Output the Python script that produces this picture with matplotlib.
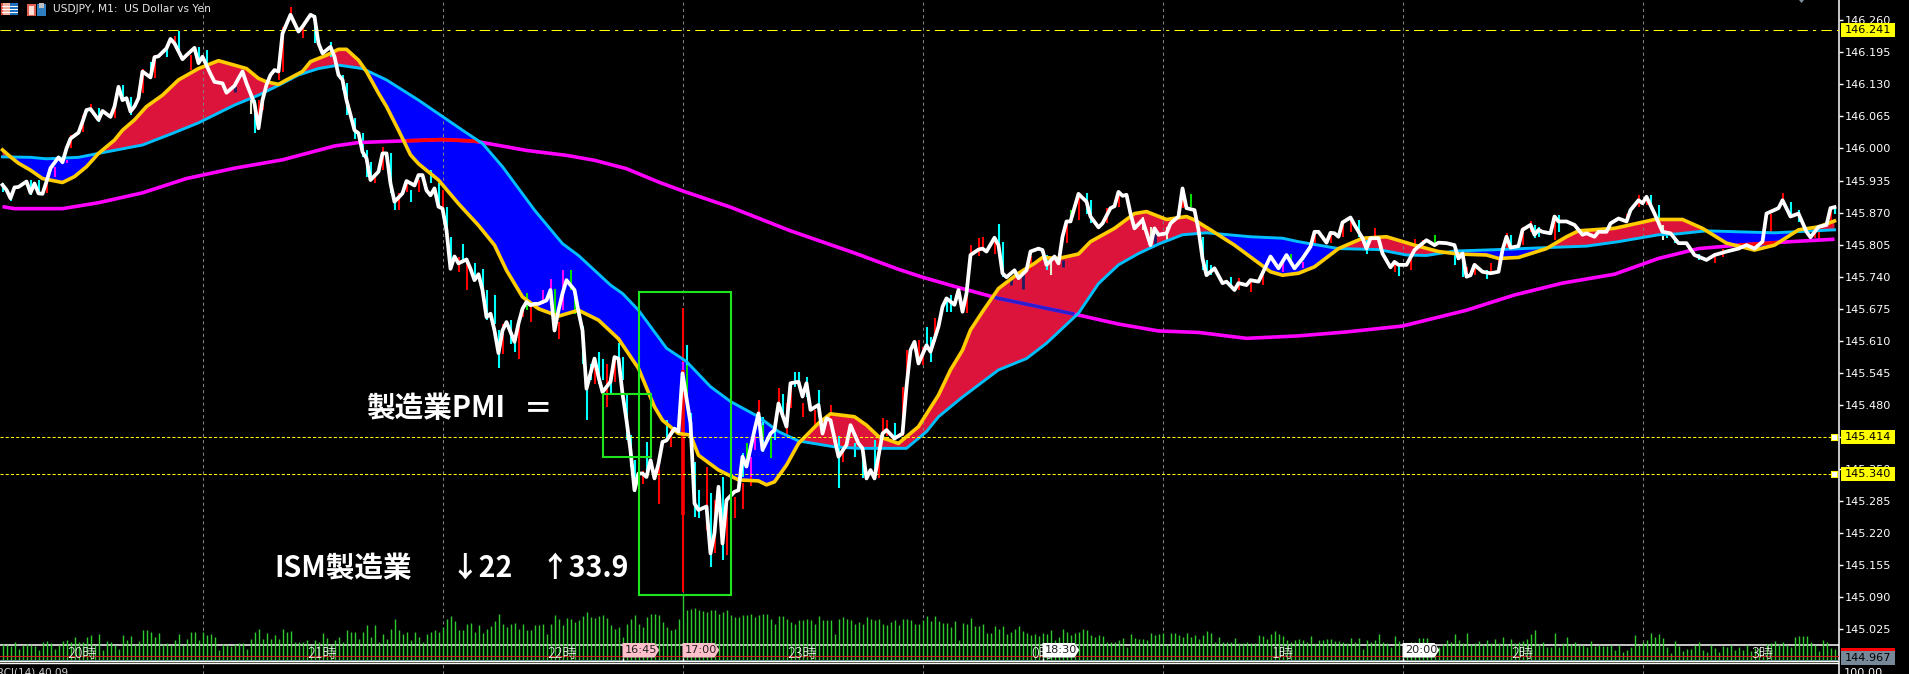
import numpy as np
import matplotlib
matplotlib.use("Agg")
import matplotlib.pyplot as plt
from matplotlib.patches import Rectangle, Polygon

CJK = ['Noto Sans CJK JP', 'DejaVu Sans']

# ---------- close line (bar index, price) ----------
close_idx = [0,1,2,3,4,6,7,8,9,10,11,12,14,15,16,17,19,20,21,22,24,25,27,28,29,30,31,32,33,34,35,37,38,39,41,42,43,45,46,48,49,50,52,53,55,56,58,59,60,61,63,64,65,66,67,68,69,70,72,74,75,77,78,79,80,82,83,84,85,86,87,88,89,90,91,92,94,95,96,97,98,100,101,103,104,105,106,107,108,109,110,111,112,113,114,116,117,118,119,120,121,122,123,124,125,126,128,129,130,131,132,133,134,136,137,138,139,140,141,143,144,145,146,147,148,149,150,152,153,154,155,156,157,158,159,160,161,162,163,164,165,166,168,169,170,172,173,174,176,177,178,179,180,181,183,184,185,186,188,189,190,192,193,194,196,197,199,200,201,202,204,205,206,207,209,211,212,214,215,216,217,218,220,221,223,225,226,227,228,229,231,232,234,235,236,238,239,240,241,242,244,245,246,248,249,250,251,253,254,256,257,259,260,261,262,263,264,265,266,267,269,271,272,274,275,277,278,279,280,281,282,283,285,287,288,289,291,292,294,295,296,298,299,300,301,303,305,306,308,309,311,312,314,317,319,321,323,325,327,328,329,331,332,333,334,335,337,338,340,341,342,344,345,347,348,349,351,353,354,356,358,359,361,363,364,365,366,367,368,370,372,374,375,376,377,379,380,382,383,384,385,387,388,389,391,393,395,396,398,399,401,402,404,406,407,409,410,411,413,415,417,419,421,423,426,428,431,434,436,438,440,441,444,445,447,449,451,452,454,456,457,458]
close_val = [145.926,145.916,145.899,145.921,145.922,145.933,145.910,145.929,145.909,145.908,145.933,145.960,145.982,145.972,146.000,146.020,146.032,146.054,146.078,146.080,146.058,146.076,146.064,146.085,146.125,146.098,146.102,146.075,146.085,146.102,146.156,146.144,146.185,146.187,146.203,146.222,146.213,146.181,146.189,146.204,146.173,146.186,146.151,146.135,146.132,146.113,146.127,146.142,146.156,146.132,146.091,146.041,146.098,146.129,146.149,146.159,146.156,146.233,146.271,146.237,146.247,146.271,146.267,146.213,146.193,146.206,146.186,146.149,146.139,146.098,146.068,146.037,146.031,145.993,145.980,145.936,145.953,145.990,145.990,145.929,145.892,145.909,145.934,145.925,145.946,145.946,145.915,145.905,145.919,145.882,145.878,145.834,145.756,145.781,145.767,145.775,145.756,145.733,145.745,145.713,145.658,145.665,145.631,145.585,145.631,145.648,145.608,145.645,145.675,145.689,145.682,145.685,145.685,145.692,145.713,145.631,145.672,145.706,145.733,145.713,145.669,145.631,145.513,145.544,145.574,145.537,145.506,145.527,145.577,145.574,145.503,145.449,145.388,145.307,145.341,145.341,145.334,145.368,145.331,145.361,145.405,145.408,145.432,145.426,145.544,145.443,145.280,145.267,145.274,145.179,145.220,145.314,145.199,145.287,145.304,145.307,145.375,145.355,145.429,145.463,145.389,145.422,145.429,145.483,145.436,145.524,145.527,145.497,145.524,145.470,145.480,145.422,145.453,145.449,145.375,145.399,145.439,145.402,145.392,145.331,145.348,145.331,145.422,145.429,145.412,145.422,145.517,145.591,145.608,145.564,145.601,145.588,145.639,145.679,145.696,145.683,145.713,145.669,145.706,145.784,145.795,145.797,145.791,145.819,145.804,145.747,145.739,145.753,145.737,145.753,145.791,145.797,145.794,145.764,145.772,145.781,145.767,145.821,145.852,145.852,145.908,145.892,145.862,145.840,145.848,145.879,145.883,145.912,145.904,145.906,145.868,145.838,145.855,145.804,145.838,145.825,145.828,145.848,145.862,145.919,145.879,145.875,145.835,145.777,145.743,145.757,145.727,145.730,145.713,145.727,145.723,145.733,145.730,145.781,145.757,145.784,145.757,145.777,145.801,145.831,145.831,145.809,145.829,145.828,145.821,145.850,145.860,145.845,145.818,145.797,145.818,145.818,145.787,145.759,145.770,145.764,145.764,145.794,145.801,145.814,145.804,145.809,145.808,145.804,145.777,145.787,145.740,145.743,145.764,145.750,145.747,145.750,145.794,145.821,145.799,145.802,145.835,145.845,145.825,145.835,145.831,145.828,145.862,145.852,145.852,145.845,145.825,145.828,145.821,145.831,145.831,145.848,145.858,145.852,145.875,145.895,145.889,145.902,145.868,145.831,145.828,145.808,145.808,145.784,145.774,145.784,145.791,145.797,145.804,145.797,145.811,145.868,145.879,145.895,145.862,145.868,145.831,145.820,145.841,145.845,145.879,145.881]

# ---------- moving averages ----------
fast_idx = [0,2,4,7,10,15,18,21,24,28,30,33,36,40,44,49,54,61,64,66,69,71,75,77,81,84,86,89,91,94,96,99,102,104,109,114,119,123,126,130,134,139,144,149,154,159,163,165,169,172,174,179,184,189,191,193,196,199,204,207,213,216,219,224,229,234,237,240,242,245,249,254,258,260,264,269,272,278,283,286,291,296,298,302,308,313,317,320,324,328,334,340,346,353,359,364,371,374,379,386,391,394,403,413,420,425,431,438,443,449,454,458]
fast_val = [145.997,145.983,145.970,145.956,145.939,145.931,145.943,145.963,145.990,146.017,146.037,146.058,146.085,146.108,146.139,146.162,146.178,146.162,146.142,146.135,146.130,146.139,146.156,146.176,146.189,146.201,146.201,146.179,146.156,146.112,146.085,146.037,145.987,145.969,145.936,145.888,145.844,145.804,145.753,145.699,145.675,145.660,145.672,145.652,145.614,145.554,145.476,145.449,145.422,145.419,145.378,145.348,145.328,145.326,145.318,145.324,145.358,145.402,145.443,145.462,145.456,145.439,145.416,145.402,145.436,145.500,145.551,145.591,145.632,145.669,145.716,145.747,145.767,145.779,145.777,145.786,145.811,145.838,145.868,145.872,145.856,145.862,145.855,145.835,145.804,145.774,145.750,145.743,145.747,145.760,145.797,145.818,145.821,145.804,145.791,145.786,145.784,145.777,145.779,145.797,145.821,145.833,145.838,145.856,145.856,145.838,145.808,145.794,145.804,145.835,145.841,145.853]

slow_idx = [0,7,11,19,24,35,42,49,58,64,70,74,79,84,90,96,104,115,120,125,133,140,144,152,155,159,166,171,177,182,189,194,199,208,214,226,231,234,240,249,256,261,269,274,279,284,289,295,301,312,320,324,334,344,351,356,363,374,386,396,404,414,419,426,434,443,458]
slow_val = [145.983,145.982,145.979,145.982,145.990,146.007,146.029,146.052,146.088,146.108,146.132,146.149,146.162,146.169,146.162,146.139,146.098,146.037,146.010,145.963,145.875,145.807,145.783,145.723,145.706,145.672,145.595,145.568,145.517,145.487,145.456,145.426,145.407,145.395,145.392,145.392,145.426,145.456,145.496,145.551,145.574,145.605,145.666,145.726,145.764,145.787,145.806,145.825,145.829,145.821,145.818,145.811,145.797,145.795,145.784,145.783,145.792,145.795,145.799,145.802,145.811,145.825,145.827,145.833,145.831,145.829,145.835]

long_idx = [0,3,15,24,35,46,58,70,83,89,99,110,118,131,141,148,156,164,170,182,197,213,224,230,239,249,258,268,279,289,299,311,324,336,350,366,378,390,403,414,419,424,434,447,458]
long_val = [145.882,145.878,145.878,145.890,145.910,145.939,145.960,145.977,146.005,146.012,146.015,146.018,146.015,145.996,145.986,145.976,145.959,145.932,145.914,145.881,145.833,145.788,145.755,145.739,145.718,145.696,145.681,145.664,145.644,145.630,145.627,145.615,145.620,145.628,145.640,145.672,145.703,145.727,145.745,145.777,145.787,145.797,145.804,145.811,145.816]

# ---------- candle wicks and bodies seen beside the close line ----------
red_idx = [11,17,20,22,28,35,38,43,47,64,65,69,70,72,75,93,95,99,101,104,110,114,116,125,129,130,132,139,148,151,153,159,160,161,164,167,170,176,178,181,183,185,187,189,194,196,197,200,203,207,210,219,220,221,225,226,229,233,230,241,242,244,245,248,257,266,269,276,279,295,309,312,315,328,332,335,337,343,348,352,353,355,366,368,372,374,376,380,382,388,406,409,411,428,430,442,445,453,454,457]
red_hi = [145.933,146.027,146.068,146.091,146.085,146.162,146.189,146.227,146.189,146.098,146.105,146.176,146.247,146.287,146.247,145.943,146.003,145.909,145.929,145.936,145.915,145.780,145.773,145.645,145.645,145.682,145.682,145.648,145.574,145.564,145.574,145.341,145.347,145.361,145.361,145.429,145.676,145.355,145.287,145.287,145.294,145.321,145.334,145.491,145.514,145.483,145.517,145.483,145.470,145.480,145.402,145.409,145.453,145.449,145.517,145.591,145.612,145.656,145.598,145.710,145.804,145.818,145.821,145.818,145.781,145.852,145.906,145.879,145.906,145.916,145.737,145.730,145.754,145.831,145.831,145.850,145.860,145.838,145.767,145.787,145.816,145.814,145.760,145.767,145.767,145.774,145.828,145.841,145.852,145.865,145.868,145.906,145.902,145.784,145.797,145.868,145.909,145.831,145.831,145.875]
red_lo = [145.909,146.000,146.034,146.078,146.061,146.112,146.142,146.210,146.159,146.037,146.078,146.139,146.156,146.267,146.223,145.929,145.956,145.875,145.912,145.912,145.875,145.750,145.713,145.584,145.574,145.658,145.648,145.614,145.523,145.476,145.527,145.311,145.320,145.334,145.280,145.395,145.101,145.226,145.179,145.176,145.250,145.270,145.316,145.463,145.483,145.422,145.473,145.456,145.432,145.449,145.365,145.331,145.422,145.416,145.416,145.537,145.561,145.608,145.561,145.666,145.777,145.781,145.794,145.787,145.753,145.808,145.855,145.848,145.882,145.879,145.713,145.709,145.723,145.808,145.808,145.821,145.831,145.818,145.750,145.754,145.794,145.797,145.740,145.743,145.747,145.747,145.797,145.804,145.831,145.814,145.848,145.882,145.885,145.767,145.780,145.828,145.889,145.818,145.814,145.841]

spike_body_idx = [170]
spike_body_hi = [145.551]
spike_body_lo = [145.257]

cyan_idx = [0,2,7,9,24,30,32,37,41,44,49,51,63,78,82,85,86,88,90,91,92,97,98,102,107,109,111,112,115,118,120,121,123,124,127,128,145,146,147,149,150,152,154,155,156,157,158,161,166,171,172,173,174,177,180,185,190,193,195,198,199,201,204,209,213,215,218,223,231,232,236,237,249,250,261,271,272,300,301,302,307,339,341,349,363,365,371,377,383,384,389,412,414,416,418,424,447,449,458]
cyan_hi = [145.929,145.909,145.936,145.936,146.083,146.129,146.105,146.176,146.210,146.239,146.206,146.200,146.098,146.271,146.216,146.149,146.132,146.061,146.031,145.997,145.973,145.990,145.892,145.915,145.956,145.929,145.882,145.821,145.807,145.767,145.756,145.713,145.702,145.631,145.652,145.608,145.641,145.513,145.564,145.587,145.574,145.524,145.605,145.578,145.504,145.419,145.368,145.405,145.449,145.602,145.463,145.365,145.308,145.301,145.334,145.382,145.456,145.436,145.503,145.547,145.547,145.537,145.510,145.416,145.402,145.392,145.409,145.443,145.639,145.618,145.693,145.703,145.847,145.811,145.784,145.910,145.895,145.821,145.774,145.764,145.740,145.855,145.814,145.767,145.791,145.784,145.754,145.825,145.845,145.841,145.865,145.906,145.885,145.828,145.821,145.787,145.892,145.875,145.882]
cyan_lo = [145.912,145.894,145.905,145.909,146.054,146.098,146.068,146.142,146.186,146.193,146.173,146.173,146.031,146.213,146.186,146.118,146.068,146.020,145.983,145.943,145.936,145.909,145.875,145.892,145.929,145.885,145.831,145.756,145.770,145.733,145.713,145.652,145.645,145.554,145.604,145.587,145.564,145.449,145.530,145.523,145.530,145.500,145.578,145.530,145.409,145.355,145.304,145.341,145.408,145.558,145.416,145.253,145.250,145.152,145.166,145.334,145.385,145.409,145.456,145.517,145.517,145.497,145.456,145.311,145.375,145.331,145.331,145.416,145.591,145.568,145.669,145.669,145.804,145.740,145.754,145.868,145.848,145.754,145.750,145.743,145.720,145.821,145.787,145.741,145.764,145.740,145.735,145.801,145.818,145.821,145.831,145.882,145.841,145.818,145.808,145.774,145.862,145.851,145.868]

violet_idx = [13,16,135,137,140,170,187,188,320,325]
violet_hi = [145.963,145.977,145.714,145.736,145.753,145.568,145.375,145.416,145.767,145.770]
violet_lo = [145.943,145.970,145.685,145.692,145.672,145.551,145.334,145.389,145.750,145.757]

lime_idx = [131,138,142,143,171,186,190,192,267,297,322,358]
lime_hi = [145.706,145.716,145.754,145.716,145.561,145.402,145.439,145.416,145.875,145.908,145.787,145.825]
lime_lo = [145.672,145.665,145.713,145.665,145.483,145.362,145.409,145.372,145.848,145.882,145.764,145.806]

navy_idx = [58,252,255,265,288]
navy_hi = [146.127,145.740,145.747,145.774,145.828]
navy_lo = [146.115,145.723,145.716,145.760,145.804]

pale_idx = [62,262,285,287,291,415]
pale_hi = [146.110,145.774,145.862,145.841,145.840,145.845]
pale_lo = [146.070,145.743,145.835,145.804,145.815,145.815]

# ---------- tick volume ----------
vol_a = [17,16,15,19,12,16,17,16,15,11,19,20,18,12,16,20,21,19,24,19,19,24,26,16,27,11,20,19,16,12,26,21,25,17,20,31,31,29,24,28,17,18,16,21,27,16,22,29,29,21,29,26,27,24,11,17,16,15,17,18,18,12,22,29,32,22,28,22,26,22,32,29,30,19,19,19,21,16,21,19,28,23,17,21,24,19,31,29,29,22,29,36,24,36,19,27,22,32,42,31,27,29,21,29,24,19,27,29,31,29,34,42,45,40,31,31,37,38,29,36,28,32,35,40,47,37,34,37,38,32,37,31,31,36,36,37,27,37,46,42,36,43,42,39,41,45,49,44,43,45]
vol_b = [46,43,36,32,34,24,37,42,46,37,34,44,47,47,46,39,34,31,32,42,66,51,52,53,51,50,49,51,51,47,49,51,46,44,44,46,46,47,44,46,47,47,42,37,45,45,42,39,37,41,41,42,41,37,45,41,41,41,27,42,44,42,41,37,39,37,44,42,41,42,37,36,39,41,36]
vol_c = [42,42,41,37,37,41,45,40,45,40,38,38,34,40,21,38,37,43,35,35,37,28,28,35,32,35,27,29,32,35,30,28,26,27,25,28,27,31,21,24,32,29,26,28,29,32,31,26,24,26,25,19,19,19,21,23,14,27,23,22,22,21,28,26,27,28,17,28,28,26,24,28,24,26,22,26,30,28,19,24,19,19,19,23,18,18,19,18,18,26,25,22,27,30,27,25,21,19,21,22,21,19,25,18,21,21,22,22,20,20,19,18,23,19,23,12,21,19,21,27,19,18,14,25,20,11,16,19,19,23,23,23,18,7,14,17,21,19,27,21,18,28,17,18,20,17,21,18,22,18,24,17,22,18,19,20,22,27,31,17,19,14,14,28,14,18,24,17,19,16,16,14,20,15,16,15,15,16,11,16,9,11,14,26,16]
vol_d = [19,21,28,24,27,23,14,8,20,15,10,12,12,16,19,11,9,16,13,9,15,14,16,11,14,11,16,10,13,13,8,17,18,20,17,19,16,14,24,25,25,25,19,16,10,21,19,13,12]

# ---------- axis labels and reference levels ----------
price_ticks = [146.260,146.195,146.130,146.065,146.000,145.935,145.870,145.805,145.740,145.675,145.610,145.545,145.480,145.415,145.350,145.285,145.220,145.155,145.090,145.025]
hour_idx = [20,80,140,200,260,320,380,440]
hour_labels = ['20時','21時','22時','23時','0時','1時','2時','3時']
grid_idx = [50,110,170,230,290,350,410]
levels = [146.241,145.414,145.340]
level_labels = ['146.241','145.414','145.340']
last_price = 144.967
time_tag_idx = [155,170,260,350]
time_tag_text = ['16:45','17:00','18:30','20:00']
time_tag_color = ['#FFC0CB','#FFC0CB','#FFFFFF','#FFFFFF']
box_idx = [[159,182],[150,162]]
box_price = [[145.095,145.708],[145.375,145.502]]

W, H = 1909, 674
fig = plt.figure(figsize=(W/100, H/100), dpi=100, facecolor='black')
axis_px = 1838.7
ax = fig.add_axes([0, 0, axis_px/W, 1], facecolor='black')
ax.set_xlim(-0.625, (axis_px-2.5)/4)
ax.set_ylim(146.301-0.0020275*H, 146.301)
for s in ['top','left','bottom']:
    ax.spines[s].set_visible(False)
ax.spines['right'].set_color('white')
ax.spines['right'].set_linewidth(1.1)
ax.set_xticks(grid_idx)
ax.tick_params(axis='x', length=0, labelbottom=False)
ax.yaxis.tick_right()
ax.set_yticks(price_ticks)
ax.set_yticklabels([f'{t:.3f}' for t in price_ticks])
ax.tick_params(axis='y', length=3, width=1, color='white', labelcolor='white',
               labelsize=8.1, pad=1)
ax.set_axisbelow('line')
ax.grid(axis='x', color='#808080', lw=0.75, ls=(0, (3, 3)))

# cloud between the two averages
g = np.arange(0, 459)
y_fast = np.interp(g, fast_idx, fast_val)
y_slow = np.interp(g, slow_idx, slow_val)
y_long = np.interp(g, long_idx, long_val)
ax.fill_between(g, y_fast, y_slow, where=y_fast >= y_slow, interpolate=True, color='#DC143C', lw=0, zorder=1)
ax.fill_between(g, y_fast, y_slow, where=y_fast <= y_slow, interpolate=True, color='#0000FF', lw=0, zorder=1)

# candles
def wicks(i, hi, lo, c, lw=1.5, z=2.2):
    ax.vlines(i, lo, hi, colors=c, lw=lw, zorder=z, capstyle='butt')
wicks(red_idx, red_hi, red_lo, '#FF0000')
wicks(spike_body_idx, spike_body_hi, spike_body_lo, '#FF0000', lw=2.6)
wicks(cyan_idx, cyan_hi, cyan_lo, '#00FFFF')
wicks(violet_idx, violet_hi, violet_lo, '#FF00FF')
wicks(lime_idx, lime_hi, lime_lo, '#00E000')
wicks(navy_idx, navy_hi, navy_lo, '#1C1C60', lw=2)
wicks(pale_idx, pale_hi, pale_lo, '#E8EED0')

# long average, changing colour where it crosses the cloud
ax.plot(long_idx, long_val, color='#FF00FF', lw=2.6, zorder=3, solid_capstyle='butt')
ax.plot(g, np.where((y_long > y_fast) & (y_long < y_slow), y_long, np.nan), color='#FF0000', lw=2.6, zorder=3.1, solid_capstyle='butt')
ax.plot(g, np.where((y_long < y_fast) & (y_long > y_slow), y_long, np.nan), color='#2A1FC8', lw=2.6, zorder=3.1, solid_capstyle='butt')
ax.plot(slow_idx, slow_val, color='#00BFFF', lw=2.1, zorder=3.2)
ax.plot(fast_idx, fast_val, color='#FFCC00', lw=2.6, zorder=3.3)
ax.plot(close_idx, close_val, color='white', lw=2.7, zorder=3.5)

# boxes
for (x0, x1), (y0, y1) in zip(box_idx, box_price):
    ax.add_patch(Rectangle((x0, y0), x1-x0, y1-y0, fill=False, ec='#1EE61E', lw=1.5, zorder=3.6))

# levels
ax.axhline(levels[0], color='#FFFF00', lw=0.75, ls=(0, (10, 5, 3, 5)), zorder=3.4)
for v in levels[1:]:
    ax.axhline(v, color='#FFFF00', lw=0.75, ls=(0, (3, 2)), zorder=3.4)
    ax.scatter([457.8], [v], marker='s', s=13, color='white', edgecolors='#FFFF00', linewidths=0.8, zorder=3.7)
for v, t in zip(levels, level_labels):
    ax.add_patch(Rectangle((459.6, v-0.0142), 13.5, 0.0284, fc='#FFFF00', ec='none', clip_on=False, zorder=5))
    ax.text(466.4, v, t, color='black', fontsize=8.1, ha='center', va='center', clip_on=False, zorder=6)
ax.add_patch(Rectangle((459.6, last_price-0.0142), 13.5, 0.0284, fc='#778899', ec='none', clip_on=False, zorder=5))
ax.add_patch(Rectangle((459.6, last_price+0.0142), 13.5, 0.0055, fc='#FF0000', ec='none', clip_on=False, zorder=5))
ax.text(466.4, last_price, f'{last_price:.3f}', color='black', fontsize=8.1, ha='center', va='center', clip_on=False, zorder=6)

# hand-written notes
note_kw = dict(color='white', fontsize=20.6, fontweight='bold', family=CJK, va='center', zorder=4)
ax.text(91, 145.474, '製造業PMI', ha='left', **note_kw)
ax.text(134, 145.474, '＝', ha='center', **note_kw)
ax.text(68, 145.150, 'ISM製造業', ha='left', **note_kw)
ax.text(112, 145.150, '↓22', ha='left', **note_kw)
ax.text(134.5, 145.150, '↑33.9', ha='left', **note_kw)

# volume panel
ax_vol = fig.add_axes([0, 13/H, axis_px/W, 70/H], facecolor='none')
ax_vol.set_xlim(ax.get_xlim())
ax_vol.set_ylim(0, 70)
ax_vol.axis('off')
vol = vol_a + vol_b + vol_c + vol_d
ax_vol.vlines(np.arange(len(vol)), 0, vol, colors='#2FC82F', lw=1.0, zorder=2)
ax_vol.axhline(16, color='white', lw=1.1, zorder=1.5)
ax_vol.axhline(5.4, color='#D02020', lw=0.8, zorder=2.5)
ax_vol.axhline(1.5, color='#7A9A9A', lw=0.7, zorder=2.5)
ax.axhline(144.9603, color='white', lw=1.0, zorder=4)
ax.axhline(144.9563, color='white', lw=1.0, zorder=4)

# hour labels and time tags live on top of the volume panel
ax_top = fig.add_axes(ax.get_position(), facecolor='none')
ax_top.set_xlim(ax.get_xlim()); ax_top.set_ylim(ax.get_ylim()); ax_top.axis('off')
hour_y = 146.301-0.0020275*654
for i, t in zip(hour_idx, hour_labels):
    ax_top.text(i, hour_y, t, color='white', fontsize=10.3, family=CJK, fontweight='light', ha='center', va='center', zorder=3)
tag_top, tag_bot, tag_mid = 146.301-0.0020275*643, 146.301-0.0020275*657.5, 146.301-0.0020275*650
for i, t, c in zip(time_tag_idx, time_tag_text, time_tag_color):
    ax_top.add_patch(Polygon([(i, tag_top), (i+8, tag_top), (i+9.2, tag_mid), (i+8, tag_bot), (i, tag_bot)], fc=c, ec='none', zorder=4))
    ax_top.vlines(i, 146.301-0.0020275*661, tag_bot, colors='white', lw=1, zorder=4)
    ax_top.text(i+0.6, tag_mid, t, color='#222222', fontsize=8.1, ha='left', va='center', zorder=5)

# header strip, small icons and lower window caption
fig.text(53/W, 1-9.5/H, 'USDJPY, M1:  US Dollar vs Yen', color='#E6E6E6', fontsize=7.7, ha='left', va='center')
fig.text(-3/W, 1-672.5/H, 'RCI(14) 40.09', color='#D0D0D0', fontsize=7.5, ha='left', va='center')
fig.text(1844/W, 1-672.5/H, '100.00', color='white', fontsize=8.1, ha='left', va='center')
def px_rect(x0, y0, x1, y1, c):
    fig.add_artist(Rectangle((x0/W, 1-y1/H), (x1-x0)/W, (y1-y0)/H, fc=c, ec='none', transform=fig.transFigure))
px_rect(1, 3, 18, 15, '#F0F0F0')
px_rect(1, 3, 3, 15, '#E05040'); px_rect(3, 3, 10, 15, '#F4B0A0'); px_rect(10, 3, 18, 15, '#2070C0')
for yy in (6, 9, 12):
    px_rect(2, yy, 18, yy+1, '#FFFFFF')
px_rect(27, 4, 36, 16, '#E06050'); px_rect(29, 6, 34, 15, '#FFE0D8')
px_rect(37, 4, 46, 16, '#2F7FC0'); px_rect(39, 3, 44, 8, '#C0C0C0')
fig.add_artist(Polygon([(1799/W, 1-0/H), (1804/W, 1-0/H), (1801.5/W, 1-3/H)], fc='#8090A0', ec='none', transform=fig.transFigure))

fig.savefig('out.png', dpi=100, facecolor='black')
